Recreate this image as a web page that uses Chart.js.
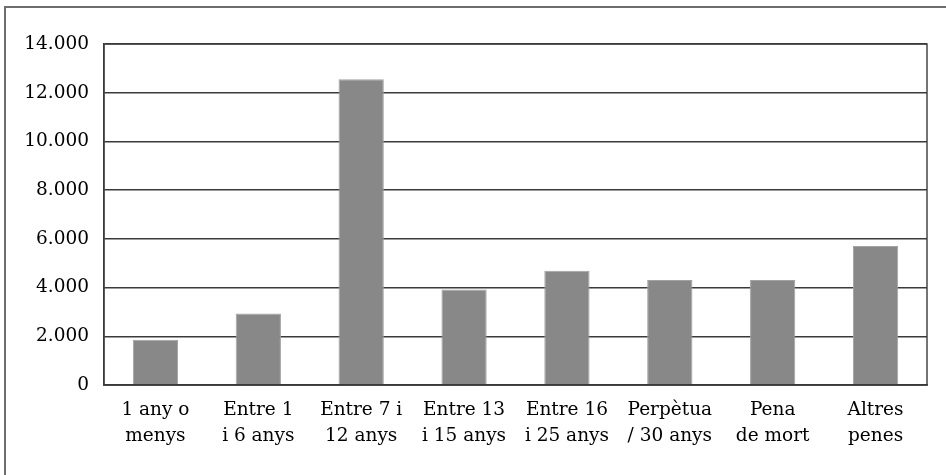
<!DOCTYPE html>
<html>
<head>
<meta charset="utf-8">
<script src="https://cdn.jsdelivr.net/npm/chart.js@4.4.0/dist/chart.umd.min.js"></script>
<style>
    html, body { margin: 0; padding: 0; background: #fff; }
    #wrap { position: relative; width: 946px; height: 475px; overflow: hidden; }
    #frame {
        position: absolute; left: 4px; top: 6px; width: 1000px; height: 600px;
        border-left: 2px solid #6e6e6e; border-top: 2px solid #6e6e6e;
    }
    canvas { position: absolute; left: 0; top: 0; }
</style>
</head>
<body>
<div id="wrap">
    <div id="frame"></div>
    <canvas id="bar-chart" width="946" height="475"></canvas>
</div>
<script>
const categories = [
    ['1 any o', 'menys'],
    ['Entre 1', 'i 6 anys'],
    ['Entre 7 i', '12 anys'],
    ['Entre 13', 'i 15 anys'],
    ['Entre 16', 'i 25 anys'],
    ['Perpètua', '/ 30 anys'],
    ['Pena', 'de mort'],
    ['Altres', 'penes']
];
const values = [1860, 2940, 12550, 3920, 4690, 4310, 4310, 5710];
const yTickLabels = ['0', '2.000', '4.000', '6.000', '8.000', '10.000', '12.000', '14.000'];

// box around the plot area (right side has no axis of its own)
const plotFrame = {
    id: 'plotFrame',
    afterDatasetsDraw(chart) {
        const a = chart.chartArea;
        const ctx = chart.ctx;
        ctx.save();
        ctx.strokeStyle = '#3a3a3a';
        ctx.lineWidth = 1.4;
        ctx.strokeRect(a.left, a.top, a.right - a.left, a.bottom - a.top);
        ctx.restore();
    }
};

new Chart(document.getElementById("bar-chart"), {
    type: 'bar',
    data: {
        labels: categories,
        datasets: [{
            data: values,
            backgroundColor: '#888888',
            borderColor: '#a2a2a2',
            borderWidth: 1,
            categoryPercentage: 1,
            barPercentage: 0.44
        }]
    },
    options: {
        responsive: false,
        animation: false,
        layout: {
            padding: { left: 0, top: 44, right: 19, bottom: 0 }
        },
        plugins: {
            legend: { display: false },
            tooltip: { enabled: false }
        },
        scales: {
            x: {
                grid: { display: false, drawTicks: false },
                border: { color: '#3a3a3a', width: 1.4 },
                ticks: {
                    color: '#000',
                    padding: 12,
                    maxRotation: 0,
                    autoSkip: false,
                    font: { family: 'DejaVu Serif', size: 18.5, lineHeight: 1.4 }
                },
                afterFit(scale) { scale.height = 90; }
            },
            y: {
                min: 0,
                max: 14000,
                grid: { color: '#3a3a3a', lineWidth: 1.4, drawTicks: false },
                border: { color: '#3a3a3a', width: 1.4 },
                ticks: {
                    stepSize: 2000,
                    color: '#000',
                    padding: 15,
                    font: { family: 'DejaVu Serif', size: 18.5 },
                    callback: (v, i) => yTickLabels[i]
                },
                afterFit(scale) { scale.width = 104; }
            }
        }
    },
    plugins: [plotFrame]
});
</script>
</body>
</html>
